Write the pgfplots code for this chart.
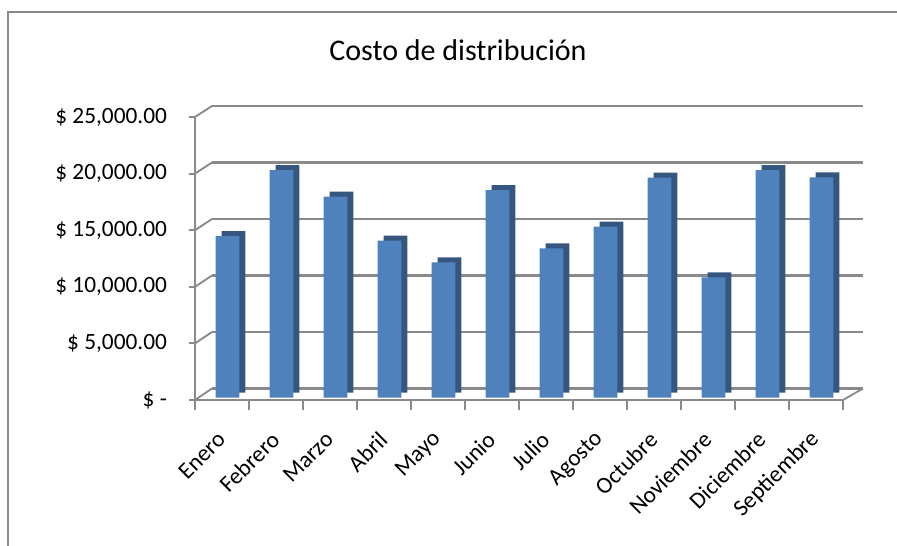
\documentclass[border=0pt]{standalone}
\usepackage{pgfplots}
\pgfplotsset{compat=1.18}
\usepackage{fontspec}
\setmainfont{Carlito}

\definecolor{barfront}{HTML}{4F81BD}
\definecolor{barside}{HTML}{35577F}
\definecolor{gridgray}{HTML}{8A8A8A}

% months in the order of the sheet
\pgfplotstableread{
x    costo
0.5  14300
1.5  20150
2.5  17790
3.5  13890
4.5  11980
5.5  18380
6.5  13220
7.5  15130
8.5  19470
9.5  10650
10.5 20130
11.5 19500
}\costos

\begin{document}
\begin{tikzpicture}[x=0.75pt,y=0.75pt]
\useasboundingbox (0,0) rectangle (897,546);
% chart frame: only its left and top sides fall inside the picture
\draw[gridgray, line width=1.5pt] (8,0) -- (8,534) -- (897,534);

\node[font=\fontsize{22.5}{27}\selectfont] at (458,496) {Costo de distribución};

% back wall with the grid
\begin{axis}[
  at={(159pt,118.125pt)}, anchor=south west,
  scale only axis, width=488.25pt, height=211.875pt,
  xmin=0, xmax=1, ymin=0, ymax=25000,
  scaled y ticks=false,
  xtick=\empty, ytick={0,5000,...,25000}, yticklabels={},
  axis line style={draw=none}, major tick length=0pt,
  ymajorgrids, major grid style={gridgray, line width=1.8pt},
]
\end{axis}

% front axes, ticks and labels
\begin{axis}[
  at={(146.25pt,109.5pt)}, anchor=south west,
  scale only axis, width=486pt, height=212.25pt,
  xmin=0, xmax=12, ymin=0, ymax=25000,
  scaled y ticks=false,
  axis lines*=left,
  axis line style={gridgray, line width=1.5pt},
  tick align=outside,
  ytick={0,5000,...,25000},
  yticklabels={{\$ -},{\$ 5,000.00},{\$ 10,000.00},{\$ 15,000.00},{\$ 20,000.00},{\$ 25,000.00}},
  major tick length=4.5pt, minor tick length=7.5pt,
  tick style={gridgray, line width=1.5pt},
  major x tick style={draw=none},
  xtick={0.5,1.5,...,11.5},
  minor xtick={0,1,...,12},
  xticklabels={Enero,Febrero,Marzo,Abril,Mayo,Junio,Julio,Agosto,Octubre,Noviembre,Diciembre,Septiembre},
  ticklabel style={font=\fontsize{17.5}{20}\selectfont},
  xticklabel style={xshift=2pt, yshift=-20pt, rotate=45, anchor=east},
  yticklabel style={xshift=-13pt},
  /pgf/number format/assume math mode=true,
]
\end{axis}

% side walls of the 3-D frame
\foreach \k in {0,...,5}
  \draw[gridgray, line width=1.4pt] (195,{146+\k*56.6}) -- (212,{157.5+\k*56.5});
\draw[gridgray, line width=1.4pt] (843,146) -- (863,157.5);

% the columns
\begin{axis}[
  at={(150.375pt,111.225pt)}, anchor=south west,
  scale only axis, width=486pt, height=211.875pt,
  xmin=0, xmax=12, ymin=0, ymax=25000,
  hide axis, clip=false,
]
\addplot[ybar, bar width=17.8pt, bar shift=4.5pt, yshift=3.75pt,
  fill=barside, draw=none] table[x=x, y=costo] {\costos};
\addplot[ybar, bar width=17.8pt, bar shift=0pt,
  fill=barfront, draw=none] table[x=x, y=costo] {\costos};
\end{axis}
\end{tikzpicture}
\end{document}
